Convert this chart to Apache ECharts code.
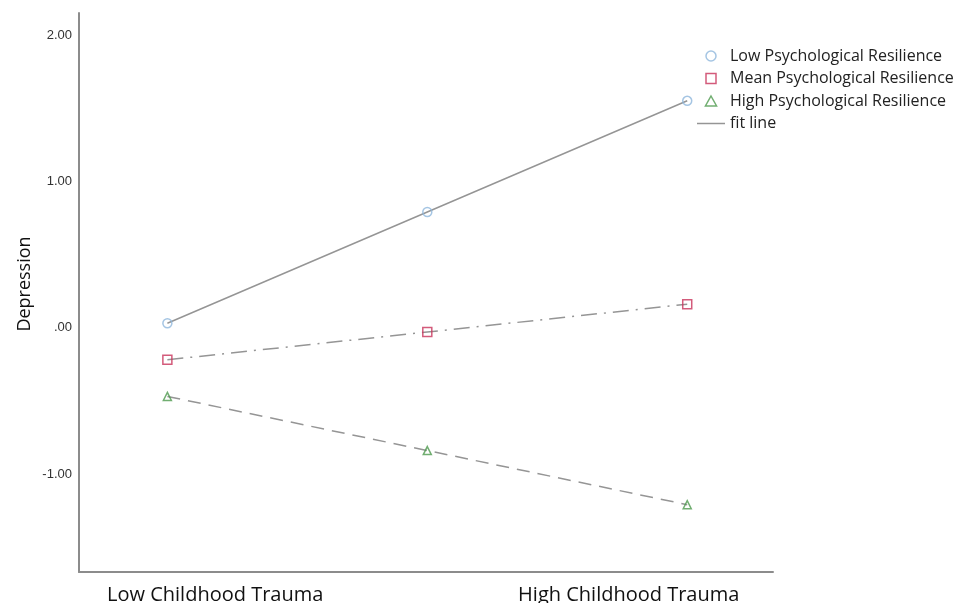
<!DOCTYPE html>
<html>
<head>
<meta charset="utf-8">
<script src="https://cdn.jsdelivr.net/npm/echarts@6/dist/echarts.min.js"></script>
<style>html,body{margin:0;padding:0;background:#fff;}#c{width:966px;height:603px;}</style>
</head>
<body>
<div id="c"></div>
<script>
var xPositions = [0, 1, 2];
var lowResilience = [0.03, 0.79, 1.55];
var meanResilience = [-0.22, -0.03, 0.16];
var highResilience = [-0.47, -0.84, -1.21];
var seriesNames = ['Low Psychological Resilience', 'Mean Psychological Resilience', 'High Psychological Resilience', 'fit line'];
var xTickLabels = ['Low Childhood Trauma', 'High Childhood Trauma'];
var xTickValues = [0.184, 1.775];
var yTickValues = [-1, 0, 1, 2];
var yTickLabels = ['-1.00', '.00', '1.00', '2.00'];

function pairs(vals) { return xPositions.map(function (x, i) { return [x, vals[i]]; }); }

var colors = { low: '#8fb6dc', mean: '#c8325a', high: '#4e9a4e', line: '#959595' };

var chart = echarts.init(document.getElementById('c'), null, { renderer: 'canvas' });
chart.setOption({
  animation: false,
  backgroundColor: '#fff',
  grid: { left: 79, right: 193, top: 13, bottom: 31, containLabel: false, outerBoundsMode: 'none' },
  xAxis: {
    type: 'value', min: -0.34, max: 2.33,
    splitLine: { show: false },
    axisTick: { show: false },
    axisLine: { onZero: false, lineStyle: { color: '#8c8c8c', width: 2 } },
    axisLabel: {
      customValues: xTickValues,
      margin: 13,
      fontFamily: 'Open Sans', fontSize: 20, color: '#111',
      formatter: function (v) {
        var i = xTickValues.indexOf(v);
        return i >= 0 ? xTickLabels[i] : '';
      }
    }
  },
  yAxis: {
    type: 'value', min: -1.67, max: 2.15,
    splitLine: { show: false },
    axisTick: { show: false },
    axisLine: { show: true, onZero: false, lineStyle: { color: '#8c8c8c', width: 2 } },
    axisLabel: {
      customValues: yTickValues,
      margin: 7,
      fontFamily: 'Liberation Sans', fontSize: 13, color: '#333',
      formatter: function (v) {
        var i = yTickValues.indexOf(v);
        return i >= 0 ? yTickLabels[i] : '';
      }
    }
  },
  graphic: [{
    type: 'text', x: 25, y: 284, rotation: Math.PI / 2,
    style: { text: 'Depression', fontFamily: 'Open Sans', fontSize: 18, fill: '#111', align: 'center', verticalAlign: 'middle' }
  }],
  legend: {
    orient: 'vertical', left: 692, top: 43,
    itemWidth: 28, itemHeight: 10, itemGap: 6.5,
    symbolKeepAspect: true,
    textStyle: { fontFamily: 'Open Sans', fontSize: 16, color: '#222', lineHeight: 16 },
    data: [
      { name: seriesNames[0], icon: 'circle', itemStyle: { color: 'rgba(255,255,255,0)', borderColor: colors.low, borderWidth: 1.5 } },
      { name: seriesNames[1], icon: 'path://M0,0L10,0L10,10L0,10Z', itemStyle: { color: 'rgba(255,255,255,0)', borderColor: colors.mean, borderWidth: 1.5 } },
      { name: seriesNames[2], icon: 'path://M5,0L10,9L0,9Z', itemStyle: { color: 'rgba(255,255,255,0)', borderColor: colors.high, borderWidth: 1.5 } },
      { name: seriesNames[3], icon: 'path://M0,0L28,0L28,1.5L0,1.5Z', itemStyle: { color: colors.line, borderWidth: 0 } }
    ]
  },
  series: [
    { name: seriesNames[3], type: 'line', data: pairs(lowResilience), symbol: 'none', z: 1,
      lineStyle: { color: colors.line, width: 1.5, type: 'solid' }, itemStyle: { color: colors.line } },
    { name: seriesNames[3], type: 'line', data: pairs(meanResilience), symbol: 'none', z: 1,
      lineStyle: { color: colors.line, width: 1.5, type: [16, 7, 2, 7] }, itemStyle: { color: colors.line } },
    { name: seriesNames[3], type: 'line', data: pairs(highResilience), symbol: 'none', z: 1,
      lineStyle: { color: colors.line, width: 1.5, type: [13, 8] }, itemStyle: { color: colors.line } },
    { name: seriesNames[0], type: 'scatter', data: pairs(lowResilience), symbol: 'circle', symbolSize: 9, z: 3,
      itemStyle: { color: 'rgba(255,255,255,0)', borderColor: colors.low, borderWidth: 1.5 } },
    { name: seriesNames[1], type: 'scatter', data: pairs(meanResilience), symbol: 'rect', symbolSize: 9, z: 3,
      itemStyle: { color: 'rgba(255,255,255,0)', borderColor: colors.mean, borderWidth: 1.5 } },
    { name: seriesNames[2], type: 'scatter', data: pairs(highResilience), symbol: 'triangle', symbolSize: 8, z: 3,
      itemStyle: { color: 'rgba(255,255,255,0)', borderColor: colors.high, borderWidth: 1.5 } }
  ]
});
</script>
</body>
</html>
